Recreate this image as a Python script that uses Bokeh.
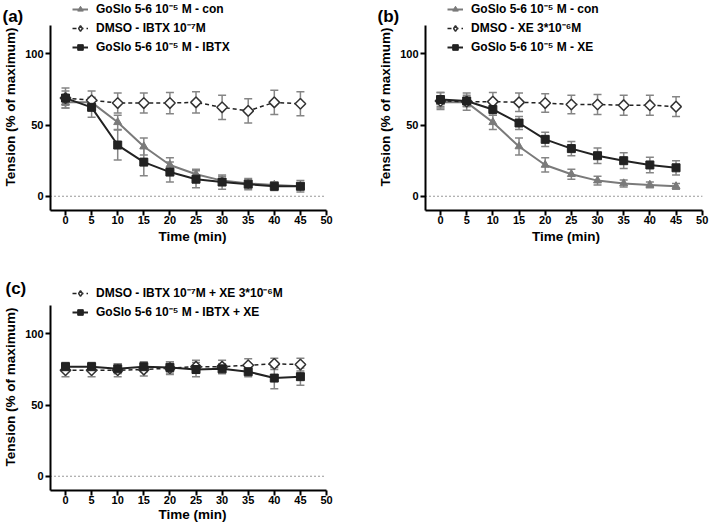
import math
from bokeh.plotting import figure
from bokeh.models import (ColumnDataSource, Whisker, TeeHead, Legend, LegendItem,
                          Title, FixedTicker, Range1d)
from bokeh.layouts import column, row
from bokeh.embed import file_html
from bokeh.resources import INLINE

# ---------------- data ----------------
time_min = [0, 5, 10, 15, 20, 25, 30, 35, 40, 45]
x_ticks = [0, 5, 10, 15, 20, 25, 30, 35, 40, 45, 50]
y_ticks = [0, 50, 100]
y_axis_bottom = -10
y_axis_top = 120

# GoSlo 5-6 10^-5 M - con (shown in a and b)
con_mean = [66, 66, 52, 35, 22, 15.5, 11, 9, 8, 7]
con_sem = [4, 3, 5, 6, 5, 3.5, 3, 2.5, 2, 2]

# panel (a)
a_dmso_mean = [69, 67.5, 65.5, 65.5, 65.5, 66, 62.5, 60, 66, 65]
a_dmso_sem = [7, 6.5, 7, 7, 7.5, 7.5, 8.5, 8.5, 8.5, 8.5]
a_ibtx_mean = [69, 62.5, 36, 24, 17, 12, 10, 8.5, 7, 7]
a_ibtx_sem = [5, 7, 10.5, 9.5, 7, 6, 5, 4, 3, 4]

# panel (b)
b_dmso_mean = [67, 66.5, 66.5, 66, 65.5, 64.5, 64.5, 64, 64, 63]
b_dmso_sem = [6, 6, 6.5, 6.5, 6.5, 6.5, 7, 7, 7, 7]
b_xe_mean = [68, 67, 61, 51.5, 40, 33.5, 28.5, 25, 22, 20]
b_xe_sem = [5, 4, 4, 4.5, 5, 5, 5.5, 5.5, 5.5, 5]

# panel (c)
c_dmso_mean = [74.5, 74.5, 74.5, 75, 76, 77, 77, 78, 79, 78.5]
c_dmso_sem = [4.5, 4.5, 4.5, 4.5, 4.5, 4.5, 4.5, 4.5, 4, 4.5]
c_xe_mean = [77, 77, 75.5, 77, 76.5, 75, 75.5, 73.5, 69, 70]
c_xe_sem = [3, 3, 3.5, 3.5, 4, 5, 3.5, 3.5, 7.5, 6]

lab_con = "GoSlo 5-6 10\u207b\u2075 M - con"
lab_a_dmso = "DMSO - IBTX 10\u207b\u2077M"
lab_a_ibtx = "GoSlo 5-6 10\u207b\u2075 M - IBTX"
lab_b_dmso = "DMSO - XE 3*10\u207b\u2076M"
lab_b_xe = "GoSlo 5-6 10\u207b\u2075 M - XE"
lab_c_dmso = "DMSO - IBTX 10\u207b\u2077M + XE 3*10\u207b\u2076M"
lab_c_xe = "GoSlo 5-6 10\u207b\u2075 M - IBTX + XE"
x_title = "Time (min)"
y_title = "Tension (% of maximum)"

FONT = "Liberation Sans"
ERR_COLOR = "#858585"
GRAY = "#7a7a7a"
DARK = "#222222"
PX_PER_Y = 1.423


def make_panel(width, height, b_left, b_right, b_top, b_bottom, x_start, x_end,
               letter, letter_offset, letter_standoff, tick_standoff=0, title_standoff=2):
    frame_h = height - b_top - b_bottom
    p = figure(width=width, height=height, output_backend="svg", toolbar_location=None,
               x_range=Range1d(x_start, x_end),
               y_range=Range1d(y_axis_bottom, y_axis_bottom + frame_h / PX_PER_Y),
               min_border_left=b_left, min_border_right=b_right,
               min_border_top=b_top, min_border_bottom=b_bottom)
    p.outline_line_color = None
    p.xgrid.visible = False
    p.ygrid.visible = False
    for ax in (p.xaxis[0], p.yaxis[0]):
        ax.axis_line_width = 2
        ax.axis_line_color = "black"
        ax.major_tick_line_width = 2
        ax.major_tick_line_color = "black"
        ax.major_tick_out = 5
        ax.major_tick_in = 0
        ax.minor_tick_line_color = None
        ax.major_label_text_font = FONT
        ax.major_label_text_font_style = "bold"
        ax.major_label_text_font_size = "11px"
        ax.major_label_text_color = "black"
        ax.axis_label_text_font = FONT
        ax.axis_label_text_font_style = "bold"
        ax.axis_label_text_font_size = "13.5px"
        ax.axis_label_text_color = "black"
    p.xaxis[0].major_label_standoff = tick_standoff
    p.yaxis[0].major_label_standoff = 2
    p.xaxis[0].axis_label = x_title
    p.yaxis[0].axis_label = y_title
    p.xaxis[0].axis_label_standoff = title_standoff
    p.yaxis[0].axis_label_standoff = 4
    p.xaxis[0].ticker = FixedTicker(ticks=x_ticks)
    p.yaxis[0].ticker = FixedTicker(ticks=y_ticks)
    p.xaxis[0].bounds = (x_start, max(x_ticks))
    p.yaxis[0].bounds = (y_axis_bottom, y_axis_top)
    # panel letter: a left-aligned title pushed down over the top-left corner
    p.add_layout(Title(text="\n" + letter, align="left", vertical_align="bottom",
                       offset=letter_offset, standoff=letter_standoff,
                       text_font=FONT, text_font_style="bold", text_font_size="17px",
                       text_color="black"), "above")
    # dotted zero line from the y axis to the last x tick
    p.line(x=[x_start, max(x_ticks)], y=[0, 0], line_color="#333333",
           line_width=1.2, line_dash="1 3")
    return p


def add_series(p, mean, sem, kind):
    src = ColumnDataSource(dict(
        x=time_min, y=mean,
        upper=[m + s for m, s in zip(mean, sem)],
        lower=[m - s for m, s in zip(mean, sem)]))
    if kind == "con":
        line = p.line("x", "y", source=src, line_color=GRAY, line_width=2)
    elif kind == "dmso":
        line = p.line("x", "y", source=src, line_color=DARK, line_width=1.5,
                      line_dash="4 3")
    else:
        line = p.line("x", "y", source=src, line_color=DARK, line_width=2)
    w = Whisker(source=src, base="x", upper="upper", lower="lower",
                line_color=ERR_COLOR, line_width=1.5,
                upper_head=TeeHead(size=8, line_color=ERR_COLOR, line_width=1.5),
                lower_head=TeeHead(size=8, line_color=ERR_COLOR, line_width=1.5))
    p.add_layout(w)
    if kind == "con":
        mk = p.scatter("x", "y", source=src, marker="triangle", size=8,
                       fill_color=GRAY, line_color=GRAY)
        return [line, mk]
    if kind == "dmso":
        p.scatter("x", "y", source=src, marker="square", angle=math.pi / 4, size=7.5,
                  fill_color="white", line_color="#333333", line_width=1.5)
        # legend glyph (diamond outline); it has no visible point of its own
        lg = p.scatter(x=[float("nan")], y=[float("nan")], marker="diamond", size=10,
                       fill_color="white", line_color="#333333", line_width=1.5)
        return [line, lg]
    mk = p.scatter("x", "y", source=src, marker="square", size=8,
                   fill_color=DARK, line_color=DARK)
    return [line, mk]


def add_legend(p, items, loc, spacing=2):
    leg = Legend(items=[LegendItem(label=l, renderers=r) for l, r in items],
                 location=loc, orientation="vertical",
                 label_text_font=FONT, label_text_font_style="bold",
                 label_text_font_size="12px", label_text_color="black",
                 glyph_width=16, glyph_height=14, label_height=14,
                 label_standoff=8, spacing=spacing, padding=0, margin=0,
                 background_fill_alpha=0, border_line_color=None)
    p.add_layout(leg)


# ---------------- panel (a) ----------------
pa = make_panel(354, 263, 50, 20, 3, 53, -2.874, 51.53, "(a)", -48, -44)
ra_con = add_series(pa, con_mean, con_sem, "con")
ra_dmso = add_series(pa, a_dmso_mean, a_dmso_sem, "dmso")
ra_ibtx = add_series(pa, a_ibtx_mean, a_ibtx_sem, "drug")
add_legend(pa, [(lab_con, ra_con), (lab_a_dmso, ra_dmso), (lab_a_ibtx, ra_ibtx)], (22, 155))

# ---------------- panel (b) ----------------
pb = make_panel(355, 263, 71, 3, 3, 53, -2.87, 50.82, "(b)", -48, -44)
rb_con = add_series(pb, con_mean, con_sem, "con")
rb_dmso = add_series(pb, b_dmso_mean, b_dmso_sem, "dmso")
rb_xe = add_series(pb, b_xe_mean, b_xe_sem, "drug")
add_legend(pb, [(lab_con, rb_con), (lab_b_dmso, rb_dmso), (lab_b_xe, rb_xe)], (22, 155))

# ---------------- panel (c) ----------------
pc = make_panel(354, 262, 50, 20, 20, 35, -2.874, 51.53, "(c)", -45, -28,
                tick_standoff=0, title_standoff=0)
rc_dmso = add_series(pc, c_dmso_mean, c_dmso_sem, "dmso")
rc_xe = add_series(pc, c_xe_mean, c_xe_sem, "drug")
add_legend(pc, [(lab_c_dmso, rc_dmso), (lab_c_xe, rc_xe)], (22, 170))

layout = column(row(pa, pb), pc)
open("out.html", "w").write(file_html(layout, INLINE))
